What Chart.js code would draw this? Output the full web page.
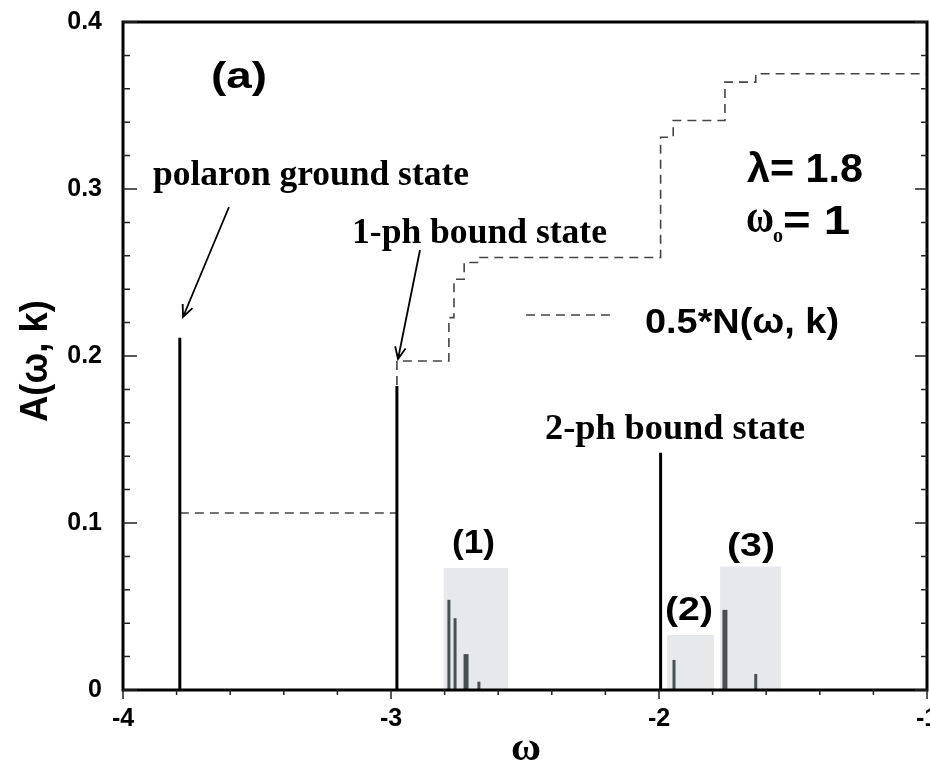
<!DOCTYPE html>
<html>
<head>
<meta charset="utf-8">
<script src="https://cdn.jsdelivr.net/npm/chart.js@4/dist/chart.umd.min.js"></script>
<style>
    html, body { margin: 0; padding: 0; background: #fff; }
    #wrap { width: 930px; height: 767px; }
</style>
</head>
<body>
<div id="wrap"><canvas id="spectral" width="930" height="767"></canvas></div>
<script>
// main spectral peaks (polaron, 1-ph, 2-ph bound states)
const peakPos = [-3.788, -2.978, -1.994];
const peakHeight = [0.211, 0.182, 0.142];

// satellite peaks inside the continua (1), (2), (3)
const satPos = [-2.784, -2.761, -2.720, -2.672, -1.944, -1.754, -1.639];
const satHeight = [0.054, 0.043, 0.0215, 0.005, 0.018, 0.048, 0.0096];

// shaded continuum boxes
const boxStart = [-2.804, -1.970, -1.772];
const boxEnd = [-2.563, -1.795, -1.545];
const boxHeight = [0.073, 0.033, 0.074];

// 0.5*N(w, k), integrated weight (steps)
const stepX = [-3.788, -2.978, -2.784, -2.765, -2.727, -2.668, -1.994, -1.947, -1.754, -1.639, -1];
const stepY = [0.106, 0.197, 0.223, 0.246, 0.256, 0.259, 0.331, 0.341, 0.364, 0.369, 0.369];

const SANS = "'Liberation Sans', Arial, sans-serif";
const SERIF = "'Liberation Serif', 'Times New Roman', serif";
const satWidths = [3, 3, 5, 3, 3, 5, 3];

function spikes(pos, height) {
    const pts = [];
    pos.forEach((p, i) => pts.push({ x: p, y: 0 }, { x: p, y: height[i] }, { x: p, y: null }));
    return pts;
}

function box(i) {
    return [
        { x: boxStart[i], y: 0 }, { x: boxStart[i], y: boxHeight[i] },
        { x: boxEnd[i], y: boxHeight[i] }, { x: boxEnd[i], y: 0 }
    ];
}

// draws text, optionally squeezed/stretched to a given width
function txt(ctx, s, x, y, font, width, align) {
    ctx.save();
    ctx.font = font;
    ctx.fillStyle = "#000";
    ctx.textBaseline = "alphabetic";
    ctx.textAlign = "left";
    const w = ctx.measureText(s).width;
    const sx = width ? width / w : 1;
    let x0 = x;
    if (align === "center") x0 = x - w * sx / 2;
    ctx.translate(x0, y);
    ctx.scale(sx, 1);
    ctx.fillText(s, 0, 0);
    ctx.restore();
}

function arrow(ctx, x1, y1, x2, y2) {
    const a = Math.atan2(y2 - y1, x2 - x1);
    const L = 13, spread = 0.42;
    ctx.save();
    ctx.strokeStyle = "#000";
    ctx.lineWidth = 1.8;
    ctx.beginPath();
    ctx.moveTo(x1, y1);
    ctx.lineTo(x2, y2);
    ctx.moveTo(x2 - L * Math.cos(a - spread), y2 - L * Math.sin(a - spread));
    ctx.lineTo(x2, y2);
    ctx.lineTo(x2 - L * Math.cos(a + spread), y2 - L * Math.sin(a + spread));
    ctx.stroke();
    ctx.restore();
}

const decorations = {
    id: "decorations",
    afterDraw(chart) {
        const ctx = chart.ctx;
        const { left, right, top, bottom } = chart.chartArea;
        const xs = chart.scales.x, ys = chart.scales.y;

        // frame
        ctx.save();
        ctx.strokeStyle = "#000";
        ctx.lineWidth = 3;
        ctx.strokeRect(left, top, right - left, bottom - top);

        // ticks: y inward on both sides, x outward at bottom
        ctx.lineWidth = 1.5;
        ctx.strokeStyle = "#222";
        ctx.beginPath();
        ys.ticks.forEach(t => {
            const py = ys.getPixelForValue(t.value);
            const major = Math.abs(t.value * 10 - Math.round(t.value * 10)) < 1e-6;
            ctx.moveTo(left, py); ctx.lineTo(left + (major ? 14 : 7), py);
            ctx.moveTo(right, py); ctx.lineTo(right - (major ? 12 : 6), py);
        });
        xs.ticks.forEach(t => {
            const px = xs.getPixelForValue(t.value);
            const major = Math.abs(t.value - Math.round(t.value)) < 1e-6;
            ctx.moveTo(px, bottom); ctx.lineTo(px, bottom + (major ? 9 : 5));
        });
        ctx.stroke();

        // legend sample for the dashed curve
        ctx.strokeStyle = "#444";
        ctx.lineWidth = 1.6;
        ctx.setLineDash([9, 6]);
        ctx.beginPath();
        ctx.moveTo(526, 315);
        ctx.lineTo(613, 315);
        ctx.stroke();
        ctx.restore();

        txt(ctx, "0.5*N(\u03c9, k)", 645, 333, "bold 35px " + SANS, 194);
        txt(ctx, "(a)", 211, 88, "bold 36px " + SANS, 56);
        txt(ctx, "\u03bb= 1.8", 747, 182, "bold 40px " + SANS, 116);
        txt(ctx, "\u03c9", 746, 232, "bold 46px " + SERIF, 28);
        txt(ctx, "o", 773, 242, "bold 20px " + SERIF);
        txt(ctx, "= 1", 783, 234, "bold 40px " + SANS, 67);

        txt(ctx, "polaron ground state", 153, 185, "bold 36px " + SERIF, 316);
        txt(ctx, "1-ph bound state", 352, 243, "bold 36px " + SERIF, 255);
        txt(ctx, "2-ph bound state", 545, 439, "bold 36px " + SERIF, 260);

        txt(ctx, "(1)", 452, 553, "bold 34px " + SANS, 43);
        txt(ctx, "(2)", 665, 620, "bold 34px " + SANS, 48);
        txt(ctx, "(3)", 727, 556, "bold 34px " + SANS, 48);

        arrow(ctx, 229, 207, 183, 317);
        arrow(ctx, 420, 250, 398, 359);

        // axis titles
        ctx.save();
        ctx.translate(47, 361);
        ctx.rotate(-Math.PI / 2);
        txt(ctx, "A(\u03c9, k)", 0, 0, "bold 38px " + SANS, 122, "center");
        ctx.restore();
        txt(ctx, "\u03c9", 526, 760, "bold 40px " + SERIF, 30, "center");
    }
};

new Chart(document.getElementById("spectral"), {
    type: "line",
    data: {
        datasets: [
            { data: spikes(peakPos, peakHeight), borderColor: "#000", borderWidth: 3, pointRadius: 0, order: 1 },
            {
                data: spikes(satPos, satHeight), borderColor: "#485050", borderWidth: 3, pointRadius: 0, order: 1,
                segment: { borderWidth: ctx => satWidths[Math.floor(ctx.p0DataIndex / 3)] }
            },
            {
                data: stepX.map((x, i) => ({ x: x, y: stepY[i] })),
                stepped: "before", borderColor: "#444", borderWidth: 1.6, borderDash: [9, 6], pointRadius: 0, order: 2
            },
            ...[0, 1, 2].map(i => ({
                data: box(i), fill: "origin", backgroundColor: "#e5e9eb", borderWidth: 0, pointRadius: 0, order: 3
            }))
        ]
    },
    options: {
        responsive: false,
        animation: false,
        events: [],
        layout: { padding: { left: 0, top: 22, right: 3, bottom: 0 } },
        plugins: { legend: { display: false }, tooltip: { enabled: false } },
        scales: {
            x: {
                type: "linear", min: -4, max: -1,
                grid: { display: false, drawTicks: false },
                border: { display: false },
                ticks: {
                    stepSize: 0.2, padding: 14, color: "#000", maxRotation: 0, autoSkip: false,
                    font: { family: SANS, size: 25, weight: "bold" },
                    callback: v => Math.abs(v - Math.round(v)) < 1e-6 ? String(Math.round(v)) : ""
                },
                afterFit(scale) { scale.height = 77; scale.paddingLeft = 0; scale.paddingRight = 0; }
            },
            y: {
                min: 0, max: 0.4,
                grid: { display: false, drawTicks: false },
                border: { display: false },
                ticks: {
                    stepSize: 0.02, padding: 21, color: "#000", autoSkip: false,
                    font: { family: SANS, size: 25, weight: "bold" },
                    callback: v => {
                        const m = Math.round(v * 10);
                        return Math.abs(v * 10 - m) < 1e-6 ? (m === 0 ? "0" : (m / 10).toFixed(1)) : "";
                    }
                },
                afterFit(scale) { scale.width = 123; scale.paddingTop = 0; scale.paddingBottom = 0; }
            }
        }
    },
    plugins: [decorations]
});
</script>
</body>
</html>
